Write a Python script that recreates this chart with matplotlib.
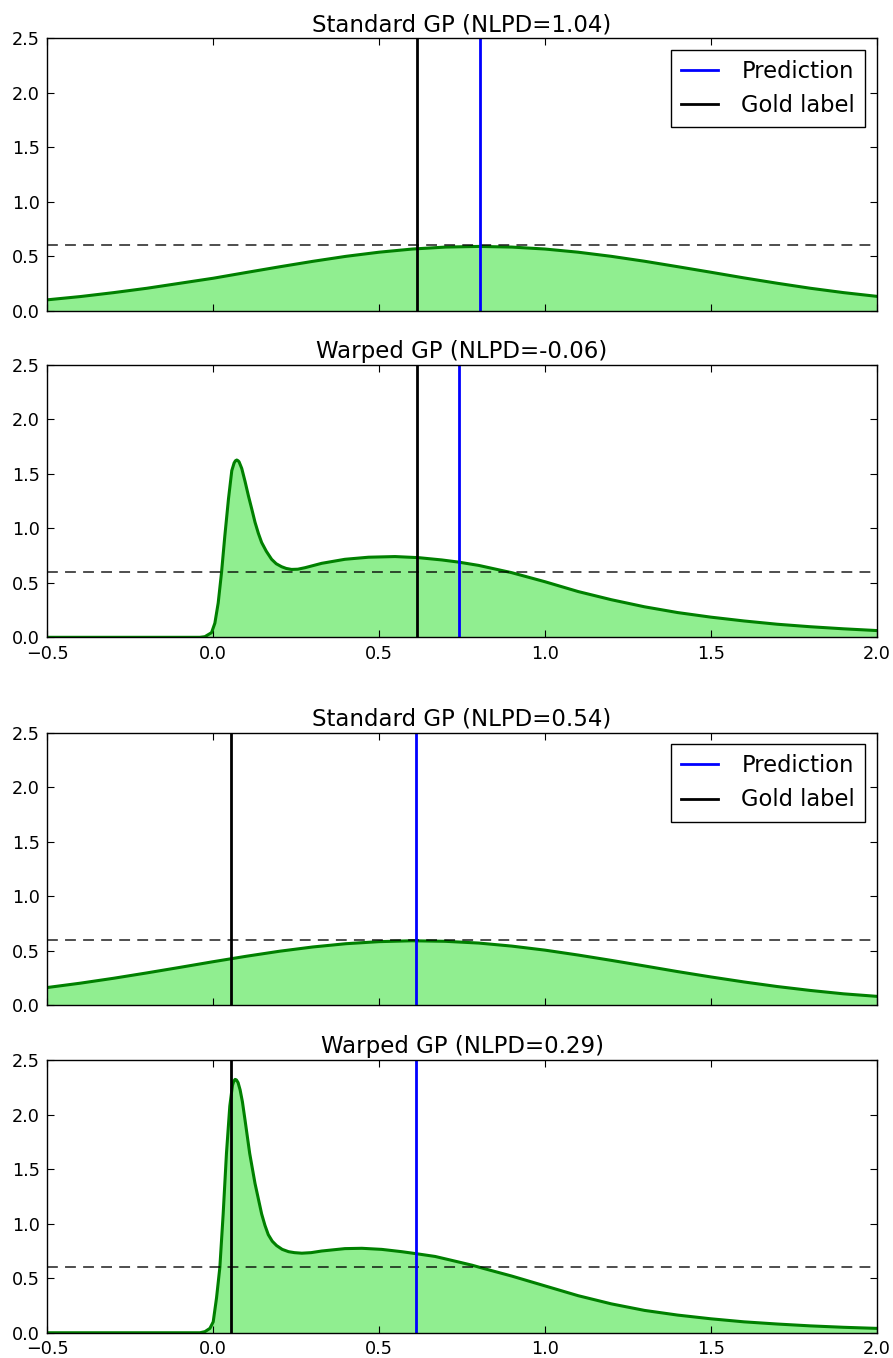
import matplotlib
matplotlib.use('Agg')
import matplotlib.pyplot as plt

titles = ['Standard GP (NLPD=1.04)', 'Warped GP (NLPD=-0.06)',
          'Standard GP (NLPD=0.54)', 'Warped GP (NLPD=0.29)']
gold_label = [0.615, 0.615, 0.053, 0.053]
prediction = [0.804, 0.741, 0.612, 0.612]
density_level = 0.6

# standard GP densities, read every 0.1
std_x = [-0.5, -0.4, -0.3, -0.2, -0.1, 0.0, 0.1, 0.2, 0.3, 0.4, 0.5, 0.6, 0.7,
         0.8, 0.9, 1.0, 1.1, 1.2, 1.3, 1.4, 1.5, 1.6, 1.7, 1.8, 1.9, 2.0]
std_a_y = [0.100, 0.130, 0.166, 0.206, 0.252, 0.298, 0.351, 0.403, 0.453, 0.499,
           0.537, 0.566, 0.584, 0.590, 0.584, 0.566, 0.537, 0.499, 0.454, 0.404,
           0.353, 0.301, 0.252, 0.206, 0.166, 0.132]
std_b_y = [0.161, 0.201, 0.246, 0.295, 0.346, 0.398, 0.448, 0.494, 0.533, 0.563,
           0.582, 0.590, 0.585, 0.569, 0.541, 0.504, 0.459, 0.410, 0.359, 0.307,
           0.258, 0.212, 0.170, 0.134, 0.103, 0.080]

# warped GP densities (denser sampling around the spike)
warp_a_x = [-0.5, -0.04, -0.025, -0.005, 0.005, 0.015, 0.025, 0.035, 0.046, 0.056,
            0.063, 0.067, 0.071, 0.075, 0.078, 0.086, 0.096, 0.106, 0.116, 0.126,
            0.136, 0.146, 0.16, 0.176, 0.19, 0.206, 0.22, 0.236, 0.255, 0.277,
            0.327, 0.397, 0.468, 0.548, 0.619, 0.689, 0.74, 0.8, 0.9, 1.0,
            1.1, 1.2, 1.3, 1.4, 1.5, 1.6, 1.7, 1.8, 1.9, 2.0]
warp_a_y = [0.0, 0.0, 0.006, 0.043, 0.13, 0.315, 0.593, 0.93, 1.27, 1.53,
            1.60, 1.62, 1.627, 1.62, 1.61, 1.55, 1.43, 1.30, 1.18, 1.056,
            0.955, 0.87, 0.79, 0.716, 0.675, 0.648, 0.632, 0.623, 0.625, 0.639,
            0.679, 0.716, 0.735, 0.741, 0.731, 0.71, 0.69, 0.66, 0.593, 0.51,
            0.42, 0.345, 0.28, 0.227, 0.185, 0.15, 0.12, 0.097, 0.078, 0.062]
warp_b_x = [-0.5, -0.04, -0.025, -0.01, 0.0, 0.01, 0.02, 0.03, 0.04, 0.05,
            0.058, 0.062, 0.066, 0.070, 0.075, 0.081, 0.088, 0.096, 0.11, 0.126,
            0.146, 0.156, 0.166, 0.178, 0.191, 0.208, 0.227, 0.245, 0.267, 0.295,
            0.327, 0.397, 0.448, 0.508, 0.568, 0.613, 0.669, 0.729, 0.78, 0.815,
            0.9, 1.0, 1.1, 1.2, 1.3, 1.4, 1.5, 1.6, 1.7, 1.8,
            1.9, 2.0]
warp_b_y = [0.0, 0.0, 0.01, 0.04, 0.10, 0.32, 0.60, 1.09, 1.65, 2.08,
            2.27, 2.31, 2.325, 2.32, 2.295, 2.23, 2.12, 1.95, 1.645, 1.37,
            1.09, 0.985, 0.90, 0.84, 0.80, 0.765, 0.744, 0.735, 0.73, 0.735,
            0.75, 0.772, 0.775, 0.765, 0.744, 0.725, 0.70, 0.657, 0.62, 0.59,
            0.52, 0.43, 0.34, 0.265, 0.205, 0.162, 0.128, 0.10, 0.08, 0.063,
            0.05, 0.04]

curves = [(std_x, std_a_y), (warp_a_x, warp_a_y),
          (std_x, std_b_y), (warp_b_x, warp_b_y)]
bottoms = [0.7712, 0.5307, 0.2599, 0.0186]


def draw_panel(ax, x, y, gold, pred, title, standard):
    ax.fill_between(x, 0, y, color='lightgreen', lw=0)
    ax.plot(x, y, color='green', lw=2.2, solid_joinstyle='round')
    ax.axhline(density_level, color='k', lw=1.3, alpha=0.75,
               linestyle=(0, (6, 4)))
    ax.axvline(pred, color='blue', lw=2, label='Prediction')
    ax.axvline(gold, color='black', lw=2, label='Gold label')
    ax.set_xlim(-0.5, 2.0)
    ax.set_ylim(0, 2.5)
    ax.set_xticks([-0.5, 0.0, 0.5, 1.0, 1.5, 2.0])
    ax.set_yticks([0.0, 0.5, 1.0, 1.5, 2.0, 2.5])
    ax.tick_params(direction='in', top=True, right=True, length=5, width=0.8,
                   labelsize=12.7, pad=5.5)
    if standard:
        ax.set_xticklabels([])
        leg = ax.legend(loc='upper right', fontsize=16.3, fancybox=False,
                        handlelength=1.6, handletextpad=1.05, borderpad=0.45,
                        borderaxespad=0.5, framealpha=1)
        leg.get_frame().set_edgecolor('black')
    else:
        ax.set_xticklabels(['\u22120.5', '0.0', '0.5', '1.0', '1.5', '2.0'])
    ax.set_title(title, fontsize=16.5, pad=5)
    for s in ax.spines.values():
        s.set_linewidth(1.0)


fig = plt.figure(figsize=(8.93, 13.58), dpi=100)
for i in range(4):
    ax = fig.add_axes([0.053, bottoms[i], 0.9288, 0.2006])
    draw_panel(ax, curves[i][0], curves[i][1], gold_label[i], prediction[i],
               titles[i], i % 2 == 0)

fig.savefig('out.png', dpi=100)
